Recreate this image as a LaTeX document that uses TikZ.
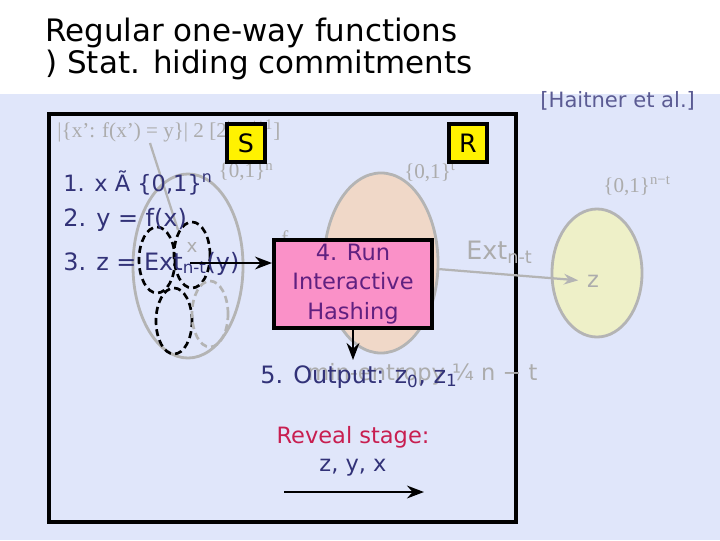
\documentclass[tikz,border=0pt]{standalone}
\usepackage{fontspec}
\setmainfont{DejaVu Sans}
\newfontfamily\gtimes{Liberation Serif}
\usetikzlibrary{arrows.meta}
\usetikzlibrary{positioning}
\usetikzlibrary{shapes.geometric}
\definecolor{slide}{RGB}{224,230,250}
\definecolor{navy}{RGB}{50,50,120}
\definecolor{plum}{RGB}{96,32,128}
\definecolor{crimson}{RGB}{200,30,80}
\definecolor{faintgray}{RGB}{172,172,172}
\definecolor{setgray}{RGB}{180,180,180}
\definecolor{hashpink}{RGB}{250,145,200}
\definecolor{peach}{RGB}{240,216,200}
\definecolor{paleyellow}{RGB}{238,240,200}
\begin{document}
\begin{tikzpicture}[x=0.025cm,y=-0.025cm,>=Stealth,semithick,
    every node/.style={inner sep=0pt},
    title/.style={anchor=base west,font=\fontsize{22}{26}\selectfont},
    navytxt/.style={text=navy,font=\fontsize{17}{20}\selectfont},
    faint/.style={text=faintgray,font=\gtimes\fontsize{15}{17}\selectfont},
    faintsans/.style={text=faintgray,font=\fontsize{16}{19}\selectfont},
    blob/.style={ellipse,draw=setgray,line width=2pt},
    part/.style={ellipse,draw,dashed,dash pattern=on 5pt off 3pt,line width=1.9pt,minimum width=0.9cm,minimum height=1.65cm},
    party/.style={draw,fill=yellow,line width=2.4pt,minimum size=0.95cm,font=\fontsize{18}{20}\selectfont},
    thick arrow/.style={->,line width=2pt}]

    \fill[white] (0,0) rectangle (720,540);
    \fill[slide] (0,94) rectangle (720,540);

    \node[title] (t1) at (45,41) {Regular one-way functions};
    \node[title] (t2) at (45,73) {) Stat. hiding commitments};
    \node[anchor=base west,text=navy!80,font=\fontsize{15}{17}\selectfont] (cite) at (540,107) {[Haitner et al.]};

    \draw[line width=2.8pt] (49,114) rectangle (516,522);

    \node[faint,anchor=west] (pre) at (57,131) {|\{x’: f(x’) = y\}| 2 [2\textsuperscript{t}, 2\textsuperscript{t+1}]};
    \node[faint] (domS) at (246,172) {\{0,1\}\textsuperscript{n}};
    \node[faint] (domR) at (430,172) {\{0,1\}\textsuperscript{t}};
    \node[faint] (domZ) at (637,186) {\{0,1\}\textsuperscript{n−t}};

    \node[blob,minimum width=2.75cm,minimum height=4.6cm] (dom) at (188,266) {};
    \node[part] (p1) at (157,260) {};
    \node[part] (p2) at (192,255) {};
    \node[part] (p3) at (174,321) {};
    \node[part,draw=setgray] (p4) at (210,314) {};
    \node[faintsans,font=\fontsize{13}{15}\selectfont] (xpt) at (192,247) {x};

    \node[blob,fill=peach,minimum width=2.85cm,minimum height=4.5cm] (hashdom) at (381,263) {};
    \node[blob,fill=paleyellow,minimum width=2.25cm,minimum height=3.2cm] (zdom) at (597,273) {};
    \node[faintsans] (zpt) at (593,281) {z};
    \node[faintsans,font=\fontsize{18}{21}\selectfont,anchor=west] (ext) at (466,252) {Ext\textsubscript{n-t}};
    \node[faint] (fpt) at (285,238) {f};

    \coordinate (pre0) at (150,143);
    \coordinate (pre1) at (178,230);
    \draw[setgray,line width=1.6pt] (pre0) -- (pre1);

    \node[navytxt,font=\fontsize{16}{19}\selectfont,anchor=base west] (s1) at (63,191) {1. x Ã \{0,1\}\textsuperscript{n}};
    \node[navytxt,anchor=base west] (s2) at (63,226) {2. y = f(x)};
    \node[navytxt,anchor=base west] (s3) at (63,270) {3. z = Ext\textsubscript{n-t}(y)};

    \node[party] (S) at (246,143) {S};
    \node[party] (R) at (468,143) {R};

    \node[draw,fill=hashpink,line width=2.8pt,minimum width=3.95cm,minimum height=2.22cm,
        text=plum,align=center,font=\fontsize{16}{21}\selectfont] (hash) at (353,284)
        {4. Run\\Interactive\\Hashing};

    \coordinate (ys) at (190,263);
    \coordinate (outtop) at (353,360);
    \path (ys) edge[thick arrow] (ys -| hash.west)
          (hash.south) edge[thick arrow] (outtop)
          (hashdom.-6) edge[->,setgray,line width=1.6pt,shorten >=6pt] (zpt.west);

    \node[faintsans,anchor=base west] (minent) at (307,380) {min-entropy ¼ n − t};
    \node[navytxt,anchor=base west] (s5) at (260,383) {5. Output: z\textsubscript{0}, z\textsubscript{1}};

    \node[text=crimson,font=\fontsize{16}{19}\selectfont] (rev) at (353,437) {Reveal stage:};
    \node[navytxt,font=\fontsize{16}{19}\selectfont] (open) at (353,468) {z, y, x};
    \coordinate (revL) at (284,492);
    \coordinate (revR) at (424,492);
    \path (revL) edge[thick arrow] (revR);
\end{tikzpicture}
\end{document}
